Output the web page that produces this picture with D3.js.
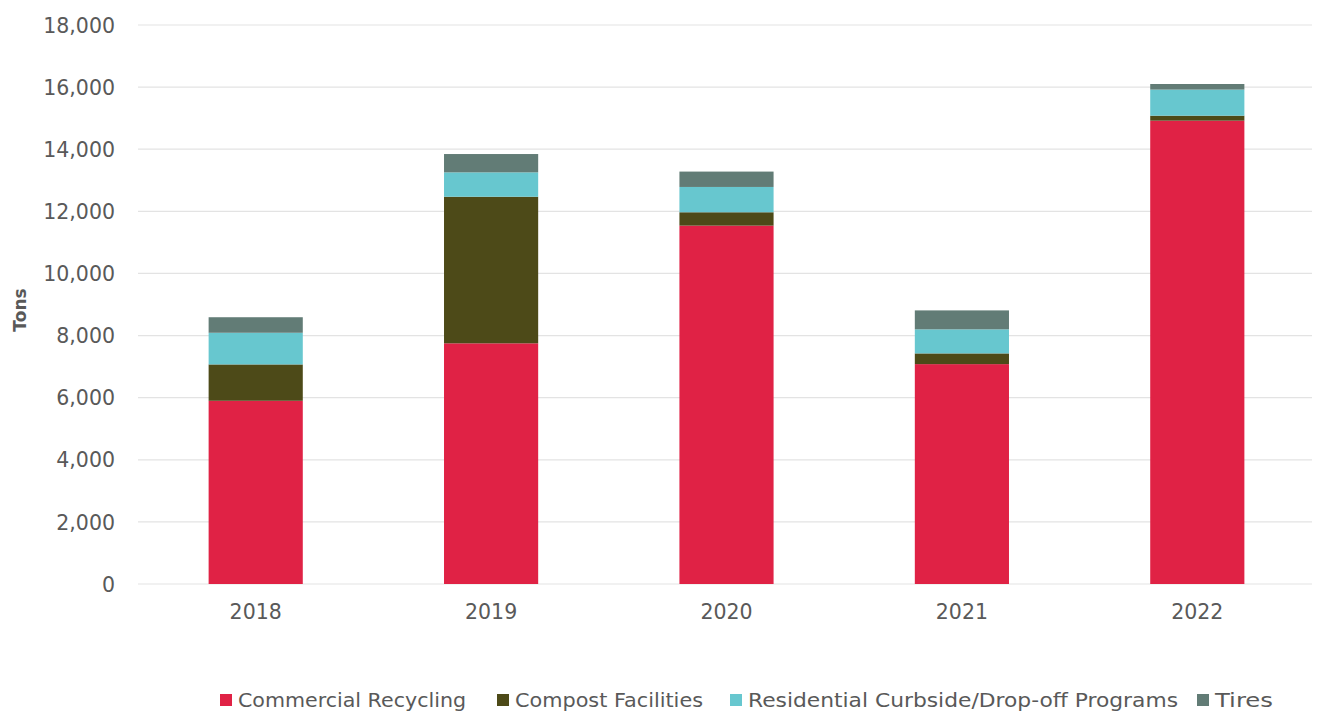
<!DOCTYPE html>
<html><head><meta charset="utf-8">
<script src="https://cdn.jsdelivr.net/npm/d3@7"></script>
<style>body{margin:0;background:#fff;} text{font-family:"DejaVu Sans",sans-serif;fill:#595959;}</style>
</head><body>
<svg id="chart" width="1319" height="715"></svg>
<script>
const years = ["2018","2019","2020","2021","2022"];
const commercial = [5900, 7750, 11540, 7080, 14920];
const compost = [1170, 4720, 430, 345, 160];
const residential = [1020, 785, 815, 775, 840];
const tires = [500, 590, 495, 610, 180];
const seriesNames = ["Commercial Recycling","Compost Facilities","Residential Curbside/Drop-off Programs","Tires"];
const seriesColors = ["#E02245","#4D4A18","#67C7CF","#627C76"];
const yTicks = [0,2000,4000,6000,8000,10000,12000,14000,16000,18000];

(function(){
const FONT = "'DejaVu Sans', sans-serif";
const svg = d3.select("#chart");
const pLeft = 138, pRight = 1315, pTop = 25, pBottom = 584;
const x = d3.scaleBand().domain(years).range([pLeft, pRight]).paddingInner(0.6).paddingOuter(0.3);
const y = d3.scaleLinear().domain([0, 18000]).range([pBottom, pTop]);

// gridlines
svg.append("g").selectAll("line").data(yTicks).join("line")
  .attr("x1", pLeft).attr("x2", 1312)
  .attr("y1", d => y(d)).attr("y2", d => y(d))
  .attr("stroke", "#e3e3e3").attr("stroke-width", 1.2);

// y axis labels
const yAxis = d3.axisLeft(y).tickValues(yTicks).tickFormat(d3.format(",")).tickSize(0).tickPadding(0);
const ya = svg.append("g").attr("transform", `translate(115,0)`).call(yAxis);
ya.select(".domain").remove();
ya.selectAll("text").attr("font-size", 20.5).attr("fill", "#595959").attr("dy", "0.35em")
  .style("font-family", FONT);

// x axis
const xAxis = d3.axisBottom(x).tickSize(0).tickPadding(0);
const xa = svg.append("g").attr("transform", `translate(0,${pBottom})`).call(xAxis);
xa.select(".domain").remove();
xa.selectAll("text").attr("font-size", 20.5).attr("fill", "#595959").attr("y", 20).attr("dy", "0.71em")
  .style("font-family", FONT);

// stacked data
const rows = years.map((yr, i) => ({year: yr, s0: commercial[i], s1: compost[i], s2: residential[i], s3: tires[i]}));
const stack = d3.stack().keys(["s0","s1","s2","s3"])(rows);
svg.append("g").selectAll("g").data(stack).join("g")
  .attr("fill", (d, i) => seriesColors[i])
  .selectAll("rect").data(d => d).join("rect")
  .attr("x", d => x(d.data.year))
  .attr("width", x.bandwidth())
  .attr("y", d => y(d[1]))
  .attr("height", d => y(d[0]) - y(d[1]));

// y title
svg.append("text").attr("transform", "translate(26,310) rotate(-90)")
  .attr("text-anchor", "middle").attr("font-size", 17).attr("font-weight", "bold").text("Tons");

// legend
const legendX = [220, 497, 730, 1197];
const legendW = [228, 188, 430, 58];
const lg = svg.append("g");
seriesNames.forEach((n, i) => {
  lg.append("rect").attr("x", legendX[i]).attr("y", 694).attr("width", 12).attr("height", 12).attr("fill", seriesColors[i]);
  lg.append("text").attr("x", legendX[i] + 18).attr("y", 700).attr("dy", "0.35em").attr("font-size", 20)
    .attr("textLength", legendW[i]).attr("lengthAdjust", "spacingAndGlyphs").text(n);
});
})();
</script>
</body></html>
